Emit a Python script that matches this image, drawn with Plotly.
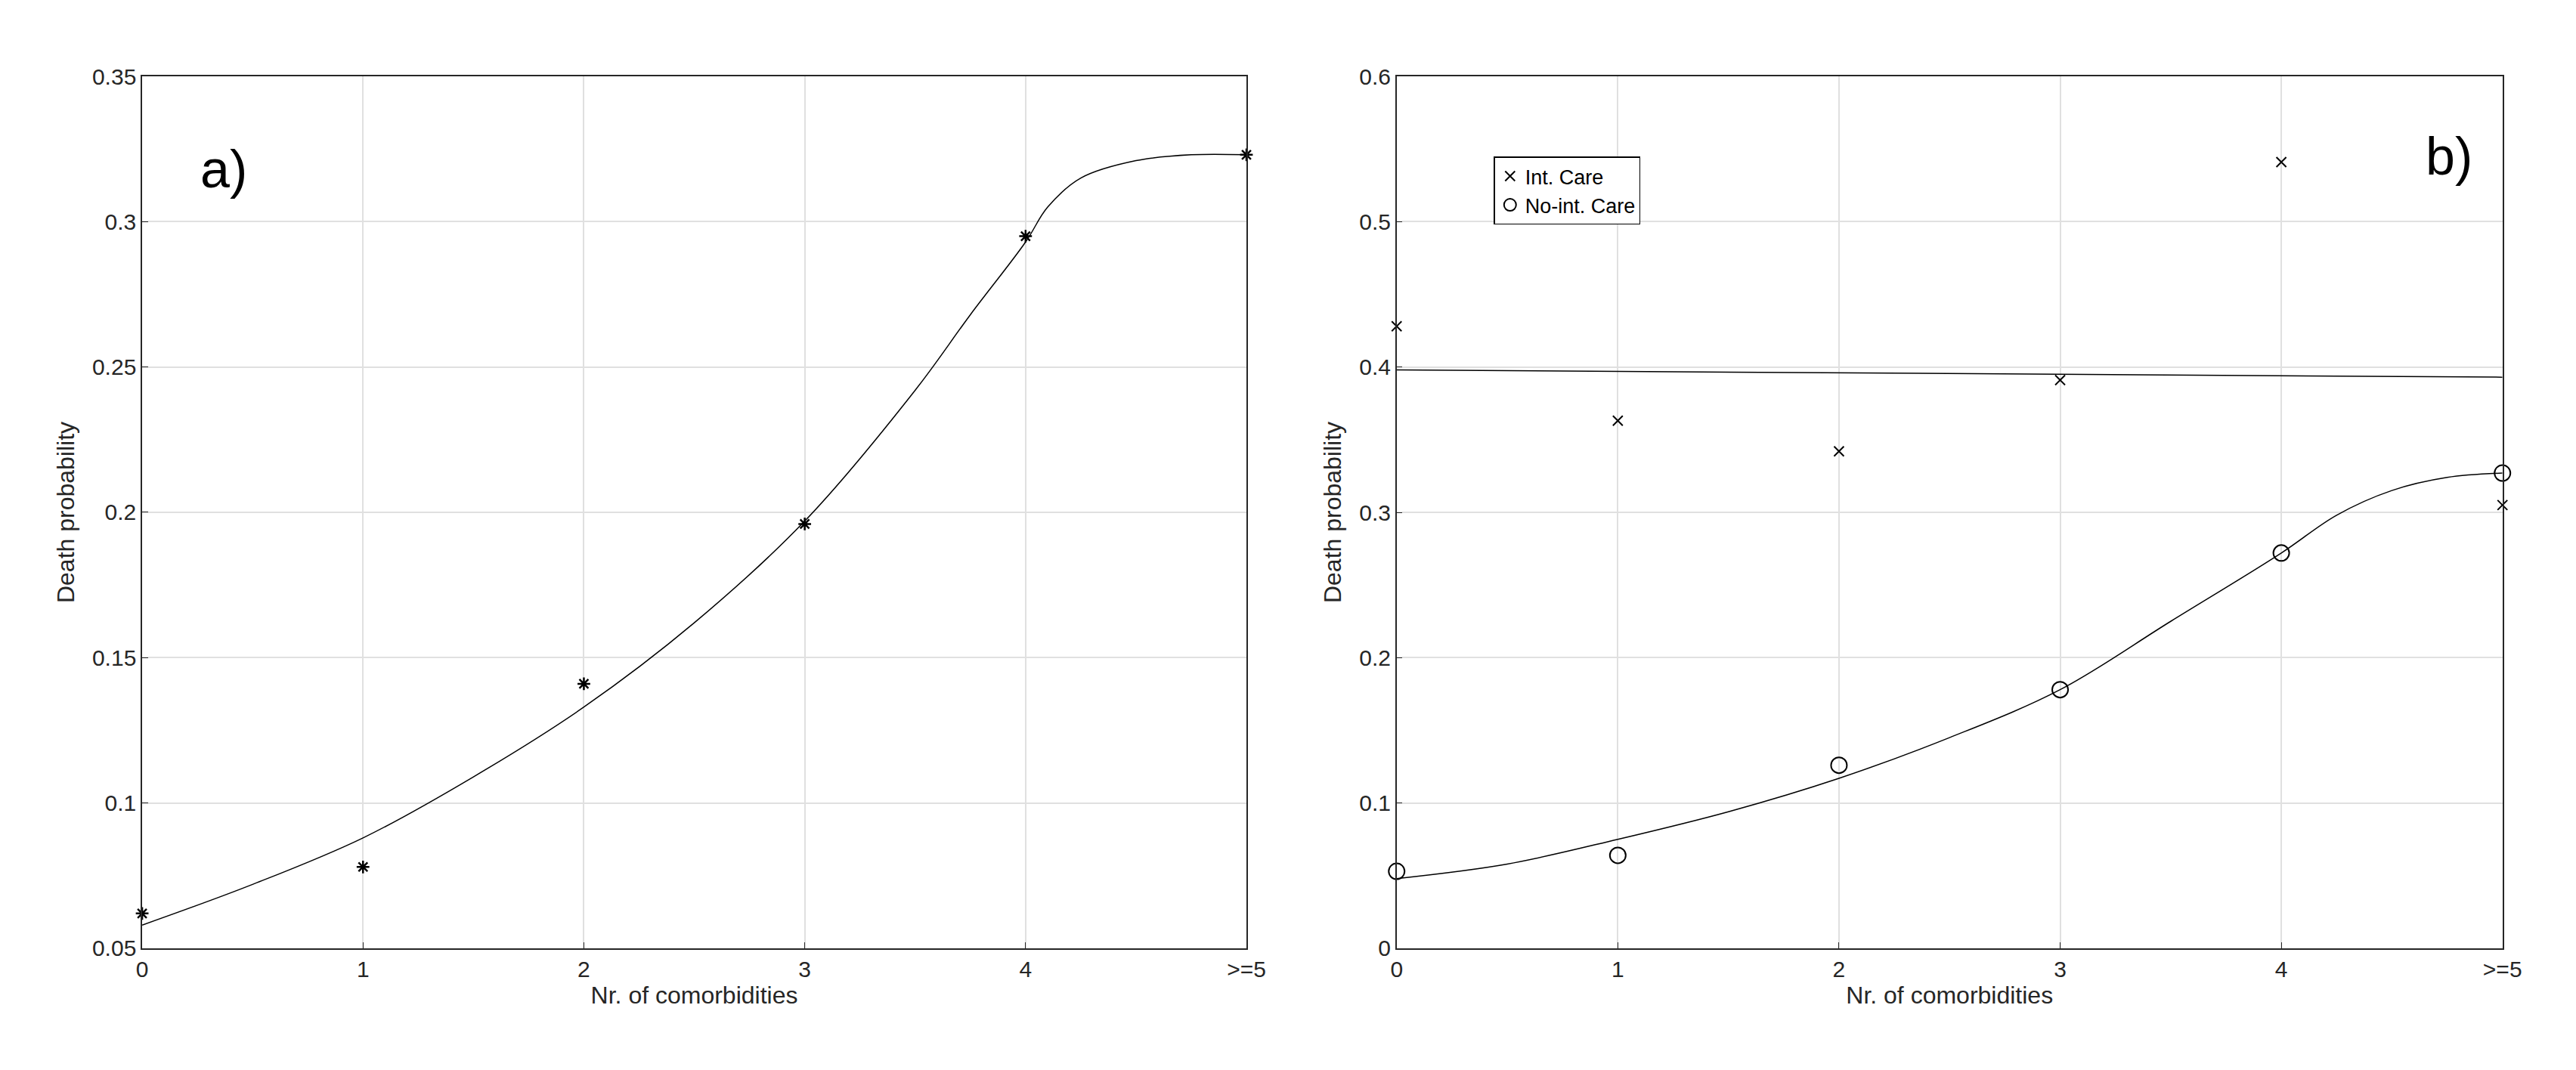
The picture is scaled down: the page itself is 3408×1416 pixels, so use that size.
import plotly.graph_objects as go
from plotly.subplots import make_subplots

# panel a) observed points and fitted curve
xa_pts = [0, 1, 2, 3, 4, 5]
ya_pts = [0.062, 0.078, 0.141, 0.196, 0.295, 0.323]
xa_fit = [0, 0.5, 1, 1.5, 2, 2.5, 3, 3.5, 3.75, 4, 4.1, 4.25, 4.5, 4.75, 5]
ya_fit = [0.058, 0.072, 0.088, 0.109, 0.133, 0.162, 0.197, 0.242, 0.268, 0.293, 0.305, 0.315, 0.321, 0.323, 0.323]

# panel b)
xb_pts = [0, 1, 2, 3, 4, 5]
yb_icu = [0.428, 0.363, 0.342, 0.391, 0.541, 0.305]
yb_noicu = [0.053, 0.064, 0.126, 0.178, 0.272, 0.327]
xb_icu_fit = [0, 5]
yb_icu_fit = [0.398, 0.393]
xb_fit = [0, 0.5, 1, 1.5, 2, 2.5, 3, 3.5, 4, 4.25, 4.5, 4.75, 5]
yb_fit = [0.048, 0.058, 0.075, 0.094, 0.117, 0.145, 0.178, 0.225, 0.272, 0.298, 0.315, 0.324, 0.327]

tick_vals = [0, 1, 2, 3, 4, 5]
tick_text = ["0", "1", "2", "3", "4", ">=5"]

fig = make_subplots(rows=1, cols=2)
line = dict(color="black", width=1.5)
fig.add_trace(go.Scatter(x=xa_fit, y=ya_fit, mode="lines", line=line, line_shape="spline", showlegend=False), 1, 1)
fig.add_trace(go.Scatter(x=xa_pts, y=ya_pts, mode="markers", showlegend=False, cliponaxis=False,
                         marker=dict(symbol="asterisk-open", size=14, color="black", line=dict(width=2.5, color="black"))), 1, 1)
fig.add_trace(go.Scatter(x=xb_icu_fit, y=yb_icu_fit, mode="lines", line=line, showlegend=False), 1, 2)
fig.add_trace(go.Scatter(x=xb_fit, y=yb_fit, mode="lines", line=line, line_shape="spline", showlegend=False), 1, 2)
fig.add_trace(go.Scatter(x=xb_pts, y=yb_icu, mode="markers", name="Int. Care", cliponaxis=False,
                         marker=dict(symbol="x-thin-open", size=13, color="black", line=dict(width=2, color="black"))), 1, 2)
fig.add_trace(go.Scatter(x=xb_pts, y=yb_noicu, mode="markers", name="No-int. Care", cliponaxis=False,
                         marker=dict(symbol="circle-open", size=21, color="black", line=dict(width=2, color="black"))), 1, 2)

ax = dict(showline=True, linecolor="#262626", linewidth=1.5, mirror=True, ticks="inside", ticklen=8,
          tickcolor="#262626", gridcolor="#e0e0e0", gridwidth=1.5, zeroline=False,
          tickfont=dict(size=30, color="#262626"))
fig.update_xaxes(ax, range=[0, 5], tickvals=tick_vals, ticktext=tick_text,
                 title=dict(text="Nr. of comorbidities", font=dict(size=32, color="#262626"), standoff=8))
fig.update_yaxes(ax, title=dict(text="Death probability", font=dict(size=32, color="#262626"), standoff=14))
fig.update_xaxes(domain=[0.051, 0.484], row=1, col=1)
fig.update_xaxes(domain=[0.5429, 0.9765], row=1, col=2)
fig.update_yaxes(domain=[0.11, 0.945], range=[0.05, 0.35], dtick=0.05, tickformat="", row=1, col=1)
fig.update_yaxes(domain=[0.11, 0.945], range=[0, 0.6], dtick=0.1, tickformat="", row=1, col=2)

fig.add_annotation(text="a)", x=0.37, y=0.318, xref="x", yref="y", showarrow=False, font=dict(size=70, color="black"))
fig.add_annotation(text="b)", x=4.76, y=0.545, xref="x2", yref="y2", showarrow=False, font=dict(size=70, color="black"))

fig.update_layout(width=3408, height=1416, plot_bgcolor="white", paper_bgcolor="white",
                  margin=dict(l=0, r=0, t=0, b=0), font=dict(family="Liberation Sans, Arial"),
                  legend=dict(x=0.581, y=0.868, xanchor="left", yanchor="top", bordercolor="black", borderwidth=1.5,
                              bgcolor="white", font=dict(size=27, color="black"), tracegroupgap=0))
fig.write_html("out.html")
